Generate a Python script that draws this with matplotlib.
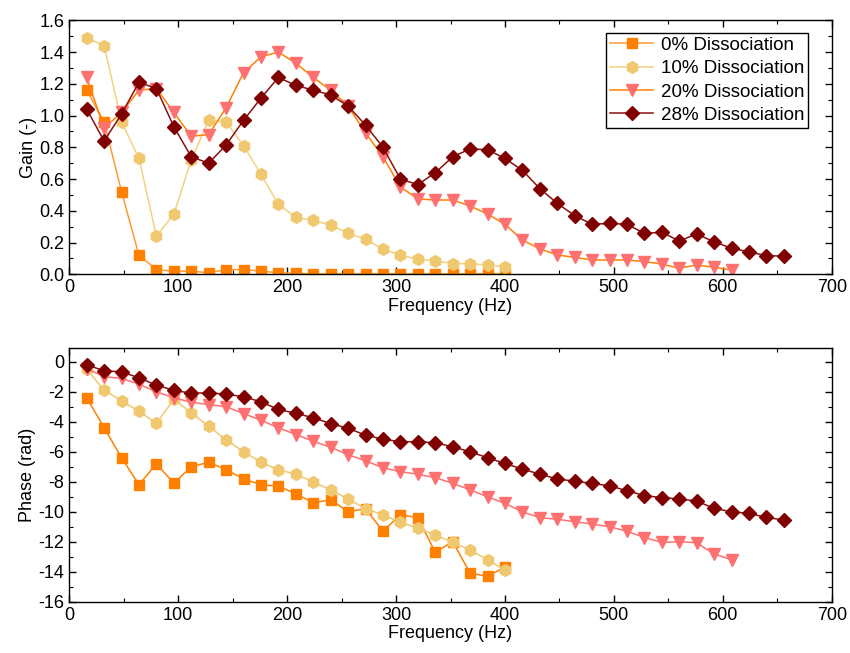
import numpy as np
import matplotlib
matplotlib.use('Agg')
import matplotlib.pyplot as plt
from matplotlib.ticker import MultipleLocator

plt.rcParams['font.family'] = ['Liberation Sans', 'DejaVu Sans']
plt.rcParams['axes.unicode_minus'] = False

# frequencies are multiples of 16 Hz
freq_0 = [16 * k for k in range(1, 26)]
freq_10 = [16 * k for k in range(1, 26)]
freq_20 = [16 * k for k in range(1, 39)]
freq_28 = [16 * k for k in range(1, 42)]

gain_0 = [1.16, 0.96, 0.52, 0.12, 0.03, 0.02, 0.02, 0.01, 0.03, 0.03, 0.02, 0.01, 0.006,
          0.003, 0.003, 0.003, 0.003, 0.003, 0.003, 0.003, 0.003, 0.003, 0.003, 0.003, 0.003]
gain_10 = [1.49, 1.44, 0.96, 0.73, 0.24, 0.38, 0.72, 0.97, 0.96, 0.81, 0.63, 0.44, 0.36,
           0.34, 0.31, 0.26, 0.22, 0.16, 0.12, 0.095, 0.086, 0.067, 0.067, 0.059, 0.047]
gain_20 = [1.24, 0.92, 1.02, 1.16, 1.17, 1.02, 0.87, 0.88, 1.05, 1.27, 1.37, 1.40, 1.33,
           1.24, 1.16, 1.06, 0.89, 0.74, 0.55, 0.475, 0.468, 0.468, 0.43, 0.38, 0.315,
           0.216, 0.16, 0.122, 0.107, 0.09, 0.09, 0.09, 0.08, 0.065, 0.038, 0.059, 0.044, 0.027]
gain_28 = [1.04, 0.84, 1.01, 1.21, 1.17, 0.93, 0.74, 0.70, 0.815, 0.97, 1.11, 1.24, 1.19,
           1.16, 1.13, 1.06, 0.94, 0.80, 0.60, 0.565, 0.64, 0.74, 0.79, 0.785, 0.73,
           0.655, 0.54, 0.447, 0.37, 0.315, 0.321, 0.315, 0.258, 0.265, 0.21, 0.254,
           0.205, 0.164, 0.142, 0.117, 0.115]

phase_0 = [-2.4, -4.4, -6.4, -8.2, -6.8, -8.1, -7.0, -6.7, -7.2, -7.8, -8.2, -8.3, -8.8,
           -9.4, -9.2, -10.0, -9.8, -11.3, -10.2, -10.4, -12.7, -12.0, -14.1, -14.3, -13.7]
phase_10 = [-0.5, -1.9, -2.6, -3.3, -4.1, -2.5, -3.4, -4.3, -5.2, -6.0, -6.7, -7.2, -7.5,
            -8.0, -8.55, -9.15, -9.8, -10.2, -10.7, -11.1, -11.55, -12.05, -12.55, -13.2, -13.9]
phase_20 = [-0.45, -1.0, -1.1, -1.5, -2.0, -2.4, -2.7, -2.85, -3.0, -3.45, -3.9, -4.4,
            -4.85, -5.3, -5.7, -6.2, -6.6, -7.07, -7.33, -7.5, -7.73, -8.1, -8.55, -9.0,
            -9.45, -10.0, -10.4, -10.5, -10.67, -10.82, -11.0, -11.3, -11.72, -12.05,
            -12.0, -12.07, -12.82, -13.2]
phase_28 = [-0.2, -0.6, -0.67, -1.07, -1.56, -1.9, -2.1, -2.07, -2.16, -2.33, -2.67, -3.18,
            -3.44, -3.73, -4.12, -4.44, -4.89, -5.16, -5.33, -5.33, -5.4, -5.67, -6.0,
            -6.4, -6.78, -7.16, -7.49, -7.82, -7.96, -8.11, -8.27, -8.6, -8.92, -9.06,
            -9.15, -9.29, -9.78, -10.0, -10.11, -10.38, -10.55]

labels = ['0% Dissociation', '10% Dissociation', '20% Dissociation', '28% Dissociation']
marker_col = ['#FF8000', '#F0C870', '#FF7070', '#800000']
line_top = ['#FF9a30', '#F5D080', '#FF8000', '#8B1010']
line_bot = ['#FF8000', '#F0C870', '#FF7070', '#8B1010']
markers = ['s', 'h', 'v', 'D']
msizes = [7.5, 8.5, 9, 6.8]

fig = plt.figure(figsize=(8.5, 6.53), dpi=100)
ax1 = fig.add_axes([0.0815, 0.5799, 0.897, 0.389])
ax2 = fig.add_axes([0.0815, 0.0786, 0.897, 0.388])

freqs = [freq_0, freq_10, freq_20, freq_28]
gains = [gain_0, gain_10, gain_20, gain_28]
phases = [phase_0, phase_10, phase_20, phase_28]

for i in range(4):
    ax1.plot(freqs[i], gains[i], color=line_top[i], lw=1.1, marker=markers[i],
             markersize=msizes[i], markerfacecolor=marker_col[i],
             markeredgecolor=marker_col[i], label=labels[i])
    ax2.plot(freqs[i], phases[i], color=line_bot[i], lw=1.1, marker=markers[i],
             markersize=msizes[i], markerfacecolor=marker_col[i],
             markeredgecolor=marker_col[i])

for ax in [ax1, ax2]:
    ax.set_xlim(0, 700)
    ax.xaxis.set_major_locator(MultipleLocator(100))
    ax.xaxis.set_minor_locator(MultipleLocator(50))
    ax.tick_params(which='both', direction='in', top=True, right=True, labelsize=13)
    ax.tick_params(which='major', length=5, width=1)
    ax.tick_params(which='minor', length=3, width=0.8)
    ax.set_xlabel('Frequency (Hz)', fontsize=13, labelpad=1)
    for s in ax.spines.values():
        s.set_linewidth(1.0)

ax1.set_ylim(0, 1.6)
ax1.yaxis.set_major_locator(MultipleLocator(0.2))
ax1.yaxis.set_minor_locator(MultipleLocator(0.1))
ax1.yaxis.set_major_formatter(matplotlib.ticker.FormatStrFormatter('%.1f'))
ax1.set_ylabel('Gain (-)', fontsize=13, labelpad=2)

ax2.set_ylim(-16, 0.9)
ax2.yaxis.set_major_locator(MultipleLocator(2))
ax2.yaxis.set_minor_locator(MultipleLocator(1))
ax2.set_ylabel('Phase (rad)', fontsize=13, labelpad=2)

leg = ax1.legend(loc='upper right', bbox_to_anchor=(0.969, 0.95), borderaxespad=0,
                 fontsize=13.5, fancybox=False, framealpha=1, edgecolor='black',
                 handlelength=2.3, handletextpad=0.4, labelspacing=0.33, borderpad=0.2)
leg.get_frame().set_linewidth(1.0)

fig.savefig('out.png', dpi=100)
